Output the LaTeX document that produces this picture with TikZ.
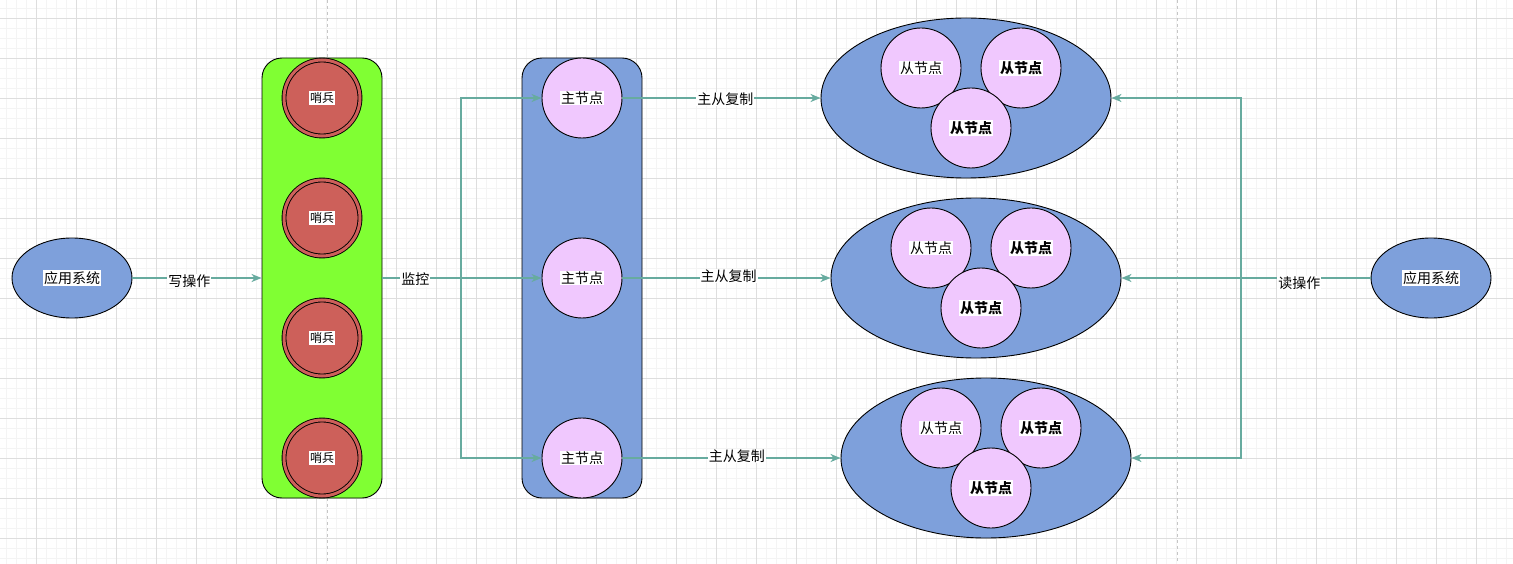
\documentclass[tikz,border=0pt]{standalone}
\usepackage{fontspec}
\setmainfont{Noto Sans CJK SC}
\usepackage{tikz}
\usetikzlibrary{arrows.meta,positioning,shapes.geometric}
\usepackage{xcolor}
\definecolor{appblue}{HTML}{7EA0DB}
\definecolor{sentgreen}{HTML}{80FF33}
\definecolor{sentred}{HTML}{CD605A}
\definecolor{nodepink}{HTML}{F0C8FE}
\definecolor{flowteal}{HTML}{67AB9F}
\definecolor{gridmajor}{HTML}{DEDEDE}
\definecolor{gridminor}{HTML}{F4F4F4}
\newcommand{\wbox}[1]{\raisebox{-1.5pt}{\setlength{\fboxsep}{1pt}\colorbox{white}{#1}}}

\begin{document}
\begin{tikzpicture}[x=1pt,y=-1pt,>={Stealth[length=10pt,width=8pt,inset=3pt]},
  txt/.style={font=\fontsize{14}{16}\selectfont},
  app/.style={ellipse,draw,line width=0.9pt,fill=appblue,minimum width=120pt,minimum height=80pt,inner sep=0pt,txt},
  panel/.style={rectangle,draw,line width=0.9pt,rounded corners=20pt,minimum width=120pt,minimum height=440pt},
  sent/.style={circle,draw,line width=0.9pt,fill=sentred,double=sentred,double distance=3pt,minimum size=76pt,inner sep=0pt,font=\fontsize{12}{14}\selectfont},
  master/.style={circle,draw,line width=0.9pt,fill=nodepink,minimum size=80pt,inner sep=0pt,txt},
  grp/.style={ellipse,draw,line width=0.9pt,fill=appblue,minimum width=290pt,minimum height=160pt},
  slave/.style={master},
  flow/.style={->,draw=flowteal,line width=1.5pt},
  lbl/.style={fill=white,inner sep=1pt,txt},
  pageline/.style={draw=gray!45,line width=0.8pt,dash pattern=on 3pt off 3pt}]
  \useasboundingbox (0,0) rectangle (1513,564);
  \fill[white] (0,0) rectangle (1513,564);
  % grid
  \foreach \gx in {6,16,...,1506} \draw[gridminor,line width=0.8pt] (\gx,0) -- (\gx,564);
  \foreach \gy in {8,18,...,558} \draw[gridminor,line width=0.8pt] (0,\gy) -- (1513,\gy);
  \foreach \gx in {36,76,...,1506} \draw[gridmajor,line width=0.8pt] (\gx,0) -- (\gx,564);
  \foreach \gy in {18,58,...,538} \draw[gridmajor,line width=0.8pt] (0,\gy) -- (1513,\gy);
  \draw[pageline] (327,0) -- (327,564);
  \draw[pageline] (1177,0) -- (1177,564);

  % write side
  \node[app] (app1) at (72,278) {\wbox{应用系统}};
  \node[panel,fill=sentgreen] (sentbox) at (322,278) {};
  \foreach \i/\y in {1/98,2/218,3/338,4/458}
    \node[sent] (sen\i) at (322,\y) {\wbox{哨兵}};
  \node[panel,fill=appblue] (masbox) at (582,278) {};
  \foreach \i/\y in {1/98,2/278,3/458}
    \node[master] (mas\i) at (582,\y) {\wbox{主节点}};

  % slave groups
  \foreach \g/\cx/\cy in {1/966/98,2/976/278,3/986/458} {
    \node[grp] (grp\g) at (\cx,\cy) {};
    \node[slave] (sla\g) at (\cx-45,\cy-30) {\wbox{从节点}};
    \node[slave] (slb\g) at (\cx+55,\cy-30) {\wbox{\bfseries 从节点}};
    \node[slave] (slc\g) at (\cx+5,\cy+30) {\wbox{\bfseries 从节点}};
  }
  \node[app] (app2) at (1431,278) {\wbox{应用系统}};

  \coordinate (jm) at (461,278);
  \coordinate (jr) at (1241,278);

  % connectors
  \draw[flow] (app1) -- node[lbl,pos=0.44,yshift=-3pt] {写操作} (sentbox);
  \draw[flow,-] (sentbox) -- node[lbl,pos=0.42,yshift=-1.5pt] {监控} (jm);
  \draw[flow] (jm) |- (mas1);
  \draw[flow] (jm) -- (mas2);
  \draw[flow] (jm) |- (mas3);
  \draw[flow] (mas1) -- node[lbl,pos=0.52,yshift=-1pt] {主从复制} (grp1);
  \draw[flow] (mas2) -- node[lbl,pos=0.51,yshift=2pt] {主从复制} (grp2);
  \draw[flow] (mas3) -- node[lbl,pos=0.525,yshift=2pt] {主从复制} (grp3);
  \draw[flow] (app2) -- node[lbl,pos=0.55,yshift=-5pt] {读操作} (jr) -- (grp2);
  \draw[flow] (jr) |- (grp1);
  \draw[flow] (jr) |- (grp3);
\end{tikzpicture}
\end{document}
